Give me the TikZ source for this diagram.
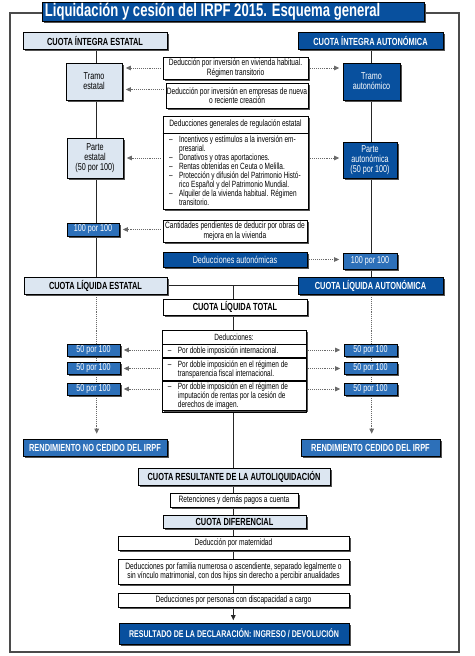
\documentclass[tikz,border=0pt]{standalone}
\usepackage{fontspec}
\setmainfont{Liberation Sans}[FakeStretch=0.72]
\usetikzlibrary{shadows,arrows.meta}
\definecolor{dblue}{RGB}{8,80,158}
\definecolor{mblue}{RGB}{45,112,185}
\definecolor{lblue}{RGB}{220,230,241}
\definecolor{framegray}{RGB}{75,75,75}
\definecolor{dotg}{RGB}{105,105,105}
\pgfdeclarelayer{bg}\pgfsetlayers{bg,main}
\newcommand\fTitle{\bfseries\fontsize{18.2}{20}\selectfont}
\newcommand\fHead{\bfseries\fontsize{10.3}{11}\selectfont}
\newcommand\fRes{\bfseries\fontsize{9.8}{11}\selectfont}
\newcommand\fBody{\fontsize{9.2}{9.3}\selectfont}
\newcommand\fMid{\fontsize{10}{10.2}\selectfont}
\newcommand\fNum{\fontsize{10}{11}\selectfont}
\newcommand\fList{\fontsize{9}{8.9}\selectfont}
\newcommand\itm{\makebox[10pt][l]{--}}
\newcommand\cnt{\hspace*{10pt}}
\tikzset{
  base/.style={rectangle, draw=black, line width=0.6pt, inner sep=1pt, align=center,
    drop shadow={shadow xshift=1.8pt, shadow yshift=-1.8pt, fill=black!68, opacity=1}},
  lbox/.style={base, fill=lblue, font=\fHead},
  dbox/.style={base, fill=dblue, text=white, font=\fHead},
  mbox/.style={base, fill=mblue, text=white, font=\fNum},
  wbox/.style={base, fill=white, font=\fBody},
  row/.style={rectangle, draw=black, line width=0.6pt, inner sep=0pt, anchor=north},
  txt/.style={anchor=west, align=left, font=\fList, inner sep=0pt},
  conn/.style={draw=black!85, line width=0.7pt},
  dotarr/.style={draw=dotg, line width=0.8pt, dash pattern=on 0.8pt off 1.1pt,
    -{Triangle[length=5pt,width=4.5pt]}, shorten >=3.5pt, shorten <=2pt},
}
\begin{document}
\begin{tikzpicture}[x=1pt,y=-1pt]
\useasboundingbox (0,0) rectangle (474,656);
\draw[draw=framegray, line width=2.2pt] (10,13) rectangle (459,652);
\node[base, fill=dblue, minimum width=382pt, minimum height=19pt] (title) at (233,11.5) {};
\node[anchor=west, inner sep=0pt, text=white, font=\fTitle, text height=13pt, text depth=3.5pt]
  (titlet) at ([xshift=3pt]title.west) {Liquidación y cesión del IRPF 2015. Esquema general};
% top row
\node[lbox, minimum width=144pt, minimum height=17pt] (cie) at (95,40.5) {CUOTA ÍNTEGRA ESTATAL};
\node[dbox, minimum width=145pt, minimum height=17pt] (cia) at (370.5,40.5) {CUOTA ÍNTEGRA AUTONÓMICA};
\node[lbox, font=\fMid, minimum width=56pt, minimum height=37pt] (te) at (94,81.5) {Tramo\\estatal};
\node[dbox, font=\fMid, minimum width=57pt, minimum height=37pt] (ta) at (371.5,81.5) {Tramo\\autonómico};
\node[wbox, minimum width=145pt, minimum height=22pt] (viv) at (235.5,68) {Deducción por inversión en vivienda habitual.\\Régimen transitorio};
\node[wbox, minimum width=142pt, minimum height=25pt] (emp) at (237,95.5) {Deducción por inversión en empresas de nueva\\o reciente creación};
% general deductions
\node[wbox, minimum width=145pt, minimum height=93pt] (gen) at (235.5,162.5) {};
\node[minimum width=145pt, minimum height=17pt, anchor=north, font=\fBody, inner sep=0pt] (genh) at (gen.north) {Deducciones generales de regulación estatal};
\draw[line width=0.6pt] (gen.west |- genh.south) -- (gen.east |- genh.south);
\node[txt, anchor=north west] (genl) at ([xshift=6pt, yshift=-3pt]genh.south west)
  {\itm Incentivos y estímulos a la inversión em-\\
   \cnt presarial.\\
   \itm Donativos y otras aportaciones.\\
   \itm Rentas obtenidas en Ceuta o Melilla.\\
   \itm Protección y difusión del Patrimonio Histó-\\
   \cnt rico Español y del Patrimonio Mundial.\\
   \itm Alquiler de la vivienda habitual. Régimen\\
   \cnt transitorio.};
\node[lbox, font=\fMid, minimum width=56pt, minimum height=40pt] (pe) at (95,158) {Parte\\estatal\\(50 por 100)};
\node[dbox, font=\fMid, minimum width=54pt, minimum height=36pt] (pa) at (370,160) {Parte\\autonómica\\(50 por 100)};
\node[mbox, minimum width=52pt, minimum height=13pt] (l100) at (93,229.5) {100 por 100};
\node[wbox, minimum width=144pt, minimum height=22pt] (cant) at (235,231) {Cantidades pendientes de deducir por obras de\\mejora en la vivienda};
\node[dbox, font=\fMid, minimum width=144pt, minimum height=15pt] (daut) at (235,259.5) {Deducciones autonómicas};
\node[mbox, minimum width=54pt, minimum height=16pt] (r100) at (370,261) {100 por 100};
% cuota liquida
\node[lbox, minimum width=143pt, minimum height=17pt] (cle) at (95.5,285.5) {CUOTA LÍQUIDA ESTATAL};
\node[dbox, minimum width=145pt, minimum height=17pt] (cla) at (370.5,285.5) {CUOTA LÍQUIDA AUTONÓMICA};
\node[wbox, font=\fHead, minimum width=144pt, minimum height=16pt] (clt) at (235,307) {CUOTA LÍQUIDA TOTAL};
% deducciones dobles
\node[wbox, minimum width=144pt, minimum height=80pt] (ded) at (234,370) {};
\node[row, minimum width=144pt, minimum height=14pt, font=\fList] (ded0) at (ded.north) {Deducciones:};
\node[row, minimum width=144pt, minimum height=13pt] (ded1) at (ded0.south) {};
\node[row, minimum width=144pt, minimum height=22pt] (ded2) at (ded1.south) {};
\node[row, minimum width=144pt, minimum height=31pt] (ded3) at (ded2.south) {};
\node[txt] (ded1t) at ([xshift=6pt]ded1.west) {\itm Por doble imposición internacional.};
\node[txt] (ded2t) at ([xshift=6pt]ded2.west) {\itm Por doble imposición en el régimen de\\\cnt transparencia fiscal internacional.};
\node[txt] (ded3t) at ([xshift=6pt]ded3.west) {\itm Por doble imposición en el régimen de\\\cnt imputación de rentas por la cesión de\\\cnt derechos de imagen.};
\node[mbox, minimum width=53pt, minimum height=12pt] (f1l) at (93.5,350) {50 por 100};
\node[mbox, minimum width=53pt, minimum height=12pt] (f2l) at (93.5,368.5) {50 por 100};
\node[mbox, minimum width=53pt, minimum height=12pt] (f3l) at (93.5,389) {50 por 100};
\node[mbox, minimum width=53pt, minimum height=12pt] (f1r) at (370.5,350) {50 por 100};
\node[mbox, minimum width=53pt, minimum height=12pt] (f2r) at (370.5,368.5) {50 por 100};
\node[mbox, minimum width=53pt, minimum height=12pt] (f3r) at (370.5,389) {50 por 100};
\node[mbox, font=\fHead, minimum width=144pt, minimum height=17pt] (rnc) at (95,447.5) {RENDIMIENTO NO CEDIDO DEL IRPF};
\node[mbox, font=\fHead, minimum width=139pt, minimum height=17pt] (rc) at (370.5,447.5) {RENDIMIENTO CEDIDO DEL IRPF};
% bottom chain
\node[lbox, minimum width=192pt, minimum height=17pt] (cres) at (234,476.5) {CUOTA RESULTANTE DE LA AUTOLIQUIDACIÓN};
\node[wbox, minimum width=128pt, minimum height=14pt] (ret) at (234,500) {Retenciones y demás pagos a cuenta};
\node[lbox, minimum width=143pt, minimum height=13pt] (cdif) at (234.5,521.5) {CUOTA DIFERENCIAL};
\node[wbox, minimum width=231pt, minimum height=14pt] (mat) at (233.5,543) {Deducción por maternidad};
\node[wbox, minimum width=231pt, minimum height=25pt] (fam) at (233.5,571.5) {Deducciones por familia numerosa o ascendiente, separado legalmente o\\sin vínculo matrimonial, con dos hijos sin derecho a percibir anualidades};
\node[wbox, minimum width=231pt, minimum height=14pt] (disc) at (233.5,600) {Deducciones por personas con discapacidad a cargo};
\node[dbox, font=\fRes, minimum width=230pt, minimum height=21pt] (res) at (234,633.5) {RESULTADO DE LA DECLARACIÓN: INGRESO / DEVOLUCIÓN};
% connectors
\begin{pgfonlayer}{bg}
\coordinate (colL) at (96.7,0);
\coordinate (colR) at (371.7,0);
\coordinate (colC) at (233.3,0);
\coordinate (empa) at ([yshift=6pt]emp.west);
\draw[conn] (cie.south -| colL) -- (cle.north -| colL);
\draw[conn] (cia.south -| colR) -- (cla.north -| colR);
\draw[conn] (cle.east) -- (cla.west);
\draw[conn, -{Triangle[length=5pt,width=4.5pt]}, shorten >=2.5pt] (colC |- cle.east) -- (colC |- res.north);
\draw[dotarr] (viv.west) -- (viv.west -| te.east);
\draw[dotarr] (viv.east) -- (viv.east -| ta.west);
\draw[dotarr] (empa) -- (empa -| te.east);
\draw[dotarr] (pe.east -| gen.west) -- (pe.east);
\draw[dotarr] (pe.east -| gen.east) -- (pe.east -| pa.west);
\draw[dotarr] (l100.east -| cant.west) -- (l100.east);
\draw[dotarr] (daut.east) -- (daut.east -| r100.west);
\draw[dotarr] (f1l.east -| ded.west) -- (f1l.east);
\draw[dotarr] (f2l.east -| ded.west) -- (f2l.east);
\draw[dotarr] (f3l.east -| ded.west) -- (f3l.east);
\draw[dotarr] (f1r.west -| ded.east) -- (f1r.west);
\draw[dotarr] (f2r.west -| ded.east) -- (f2r.west);
\draw[dotarr] (f3r.west -| ded.east) -- (f3r.west);
\draw[dotarr, shorten >=5pt, shorten <=1pt] (cle.south -| colL) -- (rnc.north -| colL);
\draw[dotarr, shorten >=5pt, shorten <=1pt] (cla.south -| colR) -- (rc.north -| colR);
\end{pgfonlayer}
\end{tikzpicture}
\end{document}
